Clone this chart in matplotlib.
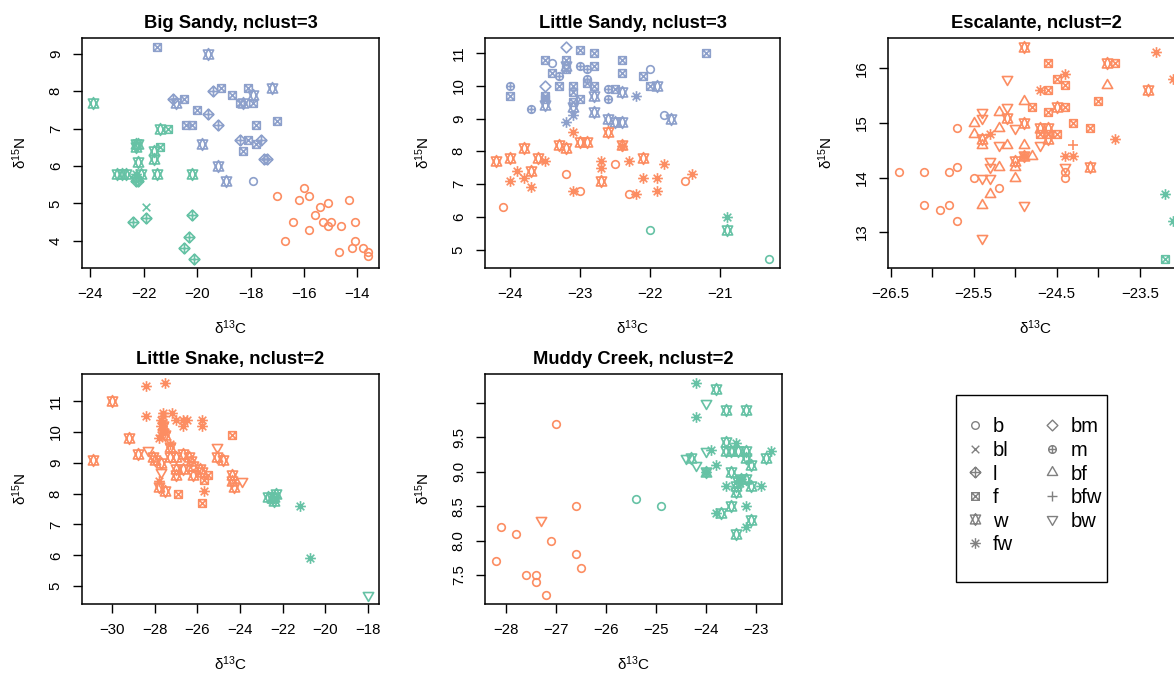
import matplotlib
matplotlib.use("Agg")
import matplotlib.pyplot as plt
from matplotlib.path import Path
from matplotlib.patches import Rectangle
import numpy as np

plt.rcParams['font.family'] = ['Liberation Sans', 'DejaVu Sans']
plt.rcParams['mathtext.fontset'] = 'custom'
plt.rcParams['mathtext.rm'] = 'Liberation Sans'
plt.rcParams['mathtext.it'] = 'Liberation Sans:italic'
plt.rcParams['mathtext.bf'] = 'Liberation Sans:bold'
plt.rcParams['mathtext.default'] = 'regular'

# ---------------- data ----------------
GREEN, ORANGE, BLUE = "#66C2A5", "#FC8D62", "#8DA0CB"

# Big Sandy
bigsandy_g_x = [-23.9, -21.4, -21.1, -22.3, -22.2, -22.3, -21.4, -21.6, -21.6, -22.2,
                -23.0, -22.8, -22.65, -22.3, -22.1, -21.5, -20.2, -22.3, -22.2, -22.3,
                -21.9, -22.4, -21.9, -20.2, -20.3, -20.5, -20.1]
bigsandy_g_y = [7.7, 7.0, 7.0, 6.6, 6.6, 6.5, 6.5, 6.4, 6.2, 6.1,
                5.8, 5.8, 5.8, 5.8, 5.8, 5.8, 5.8, 5.7, 5.6, 5.6,
                4.9, 4.5, 4.6, 4.7, 4.1, 3.8, 3.5]
bigsandy_g_diet = "w w f w w w f w w w  w w w fw w w w l l l  bl l l l l l l".split()

bigsandy_b_x = [-21.5, -19.6, -19.4, -19.1, -18.7, -18.1, -17.9, -17.2, -20.9, -20.8,
                -20.5, -18.4, -18.3, -17.9, -20.0, -19.6, -20.4, -20.2, -19.2, -17.8,
                -17.0, -19.8, -18.4, -18.1, -17.8, -17.6, -18.3, -17.5, -17.4, -19.2,
                -18.9, -17.9]
bigsandy_b_y = [9.2, 9.0, 8.0, 8.1, 7.9, 8.1, 7.9, 8.1, 7.8, 7.7,
                7.8, 7.7, 7.7, 7.7, 7.5, 7.4, 7.1, 7.1, 7.1, 7.1,
                7.2, 6.6, 6.7, 6.7, 6.6, 6.7, 6.4, 6.2, 6.2, 6.0,
                5.6, 5.6]
bigsandy_b_diet = "f w l f f f w w l w  f f w f f l f f l f  f w l f f l f l l w  w b".split()

bigsandy_o_x = [-17.0, -16.0, -16.2, -15.8, -16.4, -15.8, -16.7, -15.6, -15.4, -15.1,
                -15.3, -15.0, -15.1, -14.6, -14.3, -14.1, -14.1, -14.7, -14.2, -13.8,
                -13.6, -13.6]
bigsandy_o_y = [5.2, 5.4, 5.1, 5.2, 4.5, 4.3, 4.0, 4.7, 4.9, 5.0,
                4.5, 4.5, 4.4, 4.4, 5.1, 4.5, 4.0, 3.7, 3.8, 3.8,
                3.7, 3.6]
bigsandy_o_diet = "b b b b b b b b b b  b b b b b b b b b b  b b".split()

# Little Sandy
littlesandy_b_x = [-23.2, -23.0, -22.8, -23.5, -23.4, -23.2, -23.2, -23.2, -23.0, -22.9,
                   -22.8, -22.4, -22.4, -21.2, -22.0, -22.1, -24.0, -24.0, -23.4, -23.3,
                   -23.3, -23.5, -23.5, -23.5, -23.5, -23.7, -23.1, -23.1, -23.1, -23.1,
                   -23.1, -23.2, -22.9, -22.9, -22.8, -23.0, -22.8, -22.8, -22.6, -22.5,
                   -22.6, -22.4, -22.2, -22.0, -21.9, -22.6, -22.5, -22.4, -21.8, -21.7]
littlesandy_b_y = [11.2, 11.1, 11.0, 10.8, 10.7, 10.8, 10.5, 10.6, 10.6, 10.5,
                   10.6, 10.8, 10.4, 11.0, 10.5, 10.3, 10.0, 9.7, 10.4, 10.3,
                   10.0, 10.0, 9.7, 9.6, 9.4, 9.3, 10.0, 9.8, 9.5, 9.35,
                   9.1, 8.9, 10.2, 10.1, 10.0, 9.6, 9.7, 9.2, 9.9, 9.9,
                   9.6, 9.8, 9.7, 10.0, 10.0, 9.0, 8.9, 8.9, 9.1, 9.0]
littlesandy_b_diet = ("bm f f f b f f w m m  f f f f b f m f f m  f bm f f w m f f f w  "
                      "fw fw m f f f w w m f  m w fw f w w w w b w").split()

littlesandy_o_x = [-23.1, -22.6, -23.3, -23.2, -23.0, -22.9, -23.8, -22.4, -22.4, -24.2,
                   -24.0, -23.6, -23.5, -23.9, -23.7, -23.8, -24.0, -23.7, -23.2, -23.1,
                   -23.0, -22.7, -22.7, -22.7, -22.5, -22.3, -22.1, -21.8, -22.1, -21.9,
                   -22.3, -22.2, -21.9, -21.5, -21.4, -24.1]
littlesandy_o_y = [8.6, 8.6, 8.2, 8.1, 8.3, 8.3, 8.1, 8.2, 8.15, 7.7,
                   7.8, 7.8, 7.7, 7.4, 7.4, 7.2, 7.1, 6.9, 7.3, 6.8,
                   6.8, 7.7, 7.5, 7.1, 7.6, 7.7, 7.8, 7.6, 7.2, 7.2,
                   6.7, 6.7, 6.8, 7.1, 7.3, 6.3]
littlesandy_o_diet = ("fw w w w w w w w fw w  w w fw fw w fw fw fw b fw  "
                      "b fw fw w b fw w fw fw fw  b fw fw b fw b").split()

littlesandy_g_x = [-22.0, -20.9, -20.9, -20.3]
littlesandy_g_y = [5.6, 6.0, 5.6, 4.7]
littlesandy_g_diet = "b fw w b".split()

# Escalante
escalante_o_x = [-26.4, -26.1, -26.1, -25.9, -25.8, -25.8, -25.7, -25.7, -25.7, -25.5,
                 -25.5, -25.5, -25.4, -25.4, -25.4, -25.4, -25.4, -25.4, -25.3, -25.4,
                 -25.3, -25.3, -25.3, -25.3, -25.2, -25.2, -25.2, -25.2, -25.2, -25.1,
                 -25.1, -25.1, -25.1, -25.0, -25.0, -25.0, -25.0, -24.9, -24.9, -24.9,
                 -24.9, -24.9, -24.9, -24.8, -24.9, -24.8, -24.7, -24.6, -24.6, -24.7,
                 -24.7, -24.7, -24.6, -24.6, -24.6, -24.6, -24.5, -24.5, -24.5, -24.4,
                 -24.4, -24.4, -24.4, -24.3, -24.4, -24.4, -24.4, -24.3, -24.3, -24.1,
                 -24.1, -24.0, -23.9, -23.9, -23.8, -23.8, -23.4, -23.3, -23.1]
escalante_o_y = [14.1, 14.1, 13.5, 13.4, 13.5, 14.1, 14.9, 14.2, 13.2, 14.0,
                 15.0, 14.8, 12.9, 13.5, 15.2, 15.1, 14.7, 14.6, 14.8, 14.0,
                 14.0, 14.3, 14.2, 13.7, 13.8, 14.2, 15.2, 14.9, 14.6, 14.6,
                 15.1, 15.3, 15.8, 14.9, 14.3, 14.2, 14.0, 15.4, 15.0, 16.4,
                 14.6, 14.4, 14.4, 14.4, 13.5, 15.3, 15.6, 15.6, 16.1, 14.9,
                 14.8, 14.6, 14.9, 14.8, 14.7, 15.2, 14.8, 15.8, 15.3, 15.9,
                 15.7, 15.3, 14.4, 14.4, 14.2, 14.1, 14.0, 14.6, 15.0, 14.9,
                 14.2, 15.4, 15.7, 16.1, 16.1, 14.7, 15.6, 16.3, 15.8]
escalante_o_diet = ("b b b b b b b b b b  bf bf bw bf bw bw w bf fw bw  "
                    "bw bw bw bf b bf bf bf bw bf  w bw bw bw w bf bf bf w w  "
                    "bf w fw bf bw f fw f f w  f bw w f w f f f w fw  "
                    "f f fw fw bw b b bfw f f  w f bf w f fw w fw fw").split()

escalante_g_x = [-23.2, -23.1, -23.2]
escalante_g_y = [13.7, 13.2, 12.5]
escalante_g_diet = "fw fw f".split()

# Little Snake
littlesnake_o_x = [-28.4, -27.5, -30.0, -28.4, -27.6, -27.2, -27.7, -27.6, -27.7, -27.6,
                   -27.5, -27.7, -27.8, -27.5, -27.6, -27.6, -27.0, -26.7, -26.5, -26.7,
                   -25.8, -25.8, -24.4, -29.2, -28.8, -28.3, -28.1, -28.0, -27.3, -27.3,
                   -27.7, -27.7, -27.8, -27.8, -27.5, -27.3, -27.0, -26.7, -26.4, -26.3,
                   -27.0, -27.0, -26.7, -26.2, -26.2, -25.9, -25.8, -25.7, -25.5, -25.7,
                   -26.9, -25.8, -25.1, -25.1, -24.8, -24.4, -24.4, -24.3, -23.9, -30.9]
littlesnake_o_y = [11.5, 11.6, 11.0, 10.5, 10.6, 10.6, 10.4, 10.3, 10.2, 10.1,
                   10.0, 9.9, 9.8, 9.9, 10.2, 10.5, 10.4, 10.4, 10.4, 10.2,
                   10.4, 10.2, 9.9, 9.8, 9.3, 9.4, 9.2, 9.1, 9.6, 9.5,
                   9.0, 8.7, 8.4, 8.2, 8.1, 9.2, 9.2, 9.3, 9.2, 9.05,
                   8.8, 8.6, 8.8, 8.9, 8.6, 8.8, 8.7, 8.45, 8.6, 8.1,
                   8.0, 7.7, 9.5, 9.2, 9.1, 8.6, 8.4, 8.2, 8.4, 9.1]
littlesnake_o_diet = ("fw fw w fw fw fw fw fw fw fw  fw fw fw w w fw fw fw fw fw  "
                      "fw fw f w w bw w w fw w  w bw fw w w w w w w w  "
                      "w w w w w w w f f fw  f f bw w w w w w bw w").split()

littlesnake_g_x = [-22.7, -22.4, -22.3, -22.4, -22.5, -21.2, -20.7, -18.0]
littlesnake_g_y = [7.9, 7.9, 8.0, 7.75, 7.85, 7.6, 5.9, 4.7]
littlesnake_g_diet = "w w w w w fw fw bw".split()

# Muddy Creek
muddy_o_x = [-28.2, -28.1, -27.8, -27.6, -27.4, -27.4, -27.3, -27.2, -27.1, -27.0,
             -26.6, -26.6, -26.5]
muddy_o_y = [7.7, 8.2, 8.1, 7.5, 7.5, 7.4, 8.3, 7.2, 8.0, 9.7,
             8.5, 7.8, 7.6]
muddy_o_diet = "b b b b b b bw b b b  b b b".split()

muddy_g_x = [-25.4, -24.9, -24.2, -23.8, -24.0, -23.6, -23.2, -24.2, -23.6, -23.4,
             -23.6, -23.5, -23.35, -23.2, -23.2, -23.1, -24.0, -23.9, -24.4, -24.3,
             -24.2, -23.8, -24.0, -24.0, -23.5, -22.8, -22.7, -23.3, -23.3, -23.2,
             -23.35, -23.4, -23.4, -23.6, -23.1, -22.9, -23.5, -23.2, -23.8, -23.7,
             -23.1, -23.2, -23.4]
muddy_g_y = [8.6, 8.5, 10.3, 10.2, 10.0, 9.9, 9.9, 9.8, 9.43, 9.42,
             9.3, 9.3, 9.3, 9.3, 9.2, 9.1, 9.3, 9.32, 9.2, 9.2,
             9.1, 9.1, 9.0, 9.0, 9.0, 9.2, 9.3, 8.9, 8.9, 8.9,
             8.85, 8.8, 8.7, 8.8, 8.8, 8.8, 8.5, 8.5, 8.4, 8.4,
             8.3, 8.2, 8.1]
muddy_g_diet = ("b b fw w bw w w fw w fw  w w w w w w bw fw bw w  "
                "bw fw fw w w w fw w fw w  w w w fw w fw w fw fw w  w fw w").split()

legend_col1 = ["b", "bl", "l", "f", "w", "fw"]
legend_col2 = ["bm", "m", "bf", "bfw", "bw"]

# ---------------- marker shapes (R pch geometry) ----------------
def poly(points, closed=True):
    verts = list(points)
    codes = [Path.MOVETO] + [Path.LINETO] * (len(verts) - 1)
    if closed:
        verts.append(points[0])
        codes.append(Path.CLOSEPOLY)
    return Path(verts, codes)

def compound(*paths):
    return Path.make_compound_path(*paths)

def circle(r):
    c = Path.unit_circle()
    return Path(c.vertices * r, c.codes)

def plus(h):
    return compound(poly([(-h, 0), (h, 0)], False), poly([(0, -h), (0, h)], False))

def cross(h):
    return compound(poly([(-h, -h), (h, h)], False), poly([(-h, h), (h, -h)], False))

R = 0.375
D = np.sqrt(2) * R
TR, TX, TY = 1.5551 * R, 1.3468 * R, 0.7776 * R
Y11 = 0.5 * (TY + TR)
diamond = [(0, D), (D, 0), (0, -D), (-D, 0)]

shapes = {
    'b': circle(R),
    'bl': cross(R),
    'l': compound(poly(diamond), plus(D)),
    'f': compound(poly([(-R, -R), (R, -R), (R, R), (-R, R)]), cross(R)),
    'w': compound(poly([(0, -TR), (TX, Y11), (-TX, Y11)]), poly([(0, TR), (TX, -Y11), (-TX, -Y11)])),
    'fw': compound(plus(D), cross(R)),
    'bm': poly(diamond),
    'm': compound(circle(R), plus(R)),
    'bf': poly([(0, TR), (TX, -TY), (-TX, -TY)]),
    'bfw': plus(D),
    'bw': poly([(0, -TR), (TX, TY), (-TX, TY)]),
}
S_PT = 7.3
MEW = 1.2

def msize(key):
    return 2 * np.abs(shapes[key].vertices).max() * S_PT

# ---------------- figure ----------------
W, H = 1174, 674
fig = plt.figure(figsize=(W / 100, H / 100), dpi=100)

def minus(s):
    return s.replace('-', '\u2212')

panels = [
    dict(title="Big Sandy, nclust=3", box=(82, 38, 297, 230),
         groups=[(bigsandy_g_x, bigsandy_g_y, bigsandy_g_diet, GREEN),
                 (bigsandy_b_x, bigsandy_b_y, bigsandy_b_diet, BLUE),
                 (bigsandy_o_x, bigsandy_o_y, bigsandy_o_diet, ORANGE)],
         xt=[-24, -22, -20, -18, -16, -14], xl=None,
         yt=[4, 5, 6, 7, 8, 9], yl=None),
    dict(title="Little Sandy, nclust=3", box=(485, 38, 295, 230),
         groups=[(littlesandy_b_x, littlesandy_b_y, littlesandy_b_diet, BLUE),
                 (littlesandy_o_x, littlesandy_o_y, littlesandy_o_diet, ORANGE),
                 (littlesandy_g_x, littlesandy_g_y, littlesandy_g_diet, GREEN)],
         xt=[-24, -23, -22, -21], xl=None,
         yt=[5, 6, 7, 8, 9, 10, 11], yl=None),
    dict(title="Escalante, nclust=2", box=(888, 38, 296, 230),
         groups=[(escalante_o_x, escalante_o_y, escalante_o_diet, ORANGE),
                 (escalante_g_x, escalante_g_y, escalante_g_diet, GREEN)],
         xt=[-26.5, -26, -25.5, -25, -24.5, -24, -23.5, -23],
         xl=["-26.5", "", "-25.5", "", "-24.5", "", "-23.5", ""],
         yt=[13, 14, 15, 16], yl=None),
    dict(title="Little Snake, nclust=2", box=(82, 374, 297, 230),
         groups=[(littlesnake_o_x, littlesnake_o_y, littlesnake_o_diet, ORANGE),
                 (littlesnake_g_x, littlesnake_g_y, littlesnake_g_diet, GREEN)],
         xt=[-30, -28, -26, -24, -22, -20, -18], xl=None,
         yt=[5, 6, 7, 8, 9, 10, 11], yl=None),
    dict(title="Muddy Creek, nclust=2", box=(485, 374, 297, 230),
         groups=[(muddy_o_x, muddy_o_y, muddy_o_diet, ORANGE),
                 (muddy_g_x, muddy_g_y, muddy_g_diet, GREEN)],
         xt=[-28, -27, -26, -25, -24, -23], xl=None,
         yt=[7.5, 8.0, 8.5, 9.0, 9.5, 10.0],
         yl=["7.5", "8.0", "8.5", "9.0", "9.5", ""]),
]

for p in panels:
    left, top, w, h = p['box']
    ax = fig.add_axes([left / W, 1 - (top + h) / H, w / W, h / H])
    allx, ally = [], []
    for xs, ys, ds, col in p['groups']:
        n = min(len(xs), len(ys), len(ds))
        xs, ys, ds = np.array(xs[:n]), np.array(ys[:n]), np.array(ds[:n])
        allx += list(xs); ally += list(ys)
        for key in shapes:
            m = ds == key
            if m.any():
                ax.plot(xs[m], ys[m], ls='none', marker=shapes[key], ms=msize(key),
                        mfc='none', mec=col, mew=MEW)
    x0, x1 = min(allx), max(allx)
    y0, y1 = min(ally), max(ally)
    ax.set_xlim(x0 - 0.04 * (x1 - x0), x1 + 0.04 * (x1 - x0))
    ax.set_ylim(y0 - 0.04 * (y1 - y0), y1 + 0.04 * (y1 - y0))
    ax.set_xticks(p['xt'])
    ax.set_xticklabels([minus(s) for s in (p['xl'] if p['xl'] else [f"{v:g}" for v in p['xt']])])
    ax.set_yticks(p['yt'])
    ax.set_yticklabels(p['yl'] if p['yl'] else [f"{v:g}" for v in p['yt']],
                       rotation=90, va='center')
    ax.tick_params(direction='out', length=6.3, width=1.0, labelsize=10.8, pad=7.5, color='black')
    for sp in ax.spines.values():
        sp.set_linewidth(1.1)
    ax.set_title(p['title'], fontsize=13.2, fontweight='bold', pad=7)
    ax.set_xlabel(r'$\delta^{13}$C', fontsize=11, va='center')
    ax.xaxis.set_label_coords(0.5, -60 / h)
    ax.set_ylabel(r'$\delta^{15}$N', fontsize=11, va='center', ha='center')
    ax.yaxis.set_label_coords(-62 / w, 0.5)

# ---------------- legend ----------------
lax = fig.add_axes([956 / W, 1 - 582 / H, 151 / W, 187 / H])
lax.set_xlim(956, 1107)
lax.set_ylim(582, 395)
lax.axis('off')
lax.add_patch(Rectangle((0, 0), 1, 1, transform=lax.transAxes, fill=False,
                        lw=1.0, ec='black', clip_on=False))
LEG_GRAY = "#808080"
row_y0, row_dy = 425, 23.6
for col_keys, mx, tx in [(legend_col1, 975, 993), (legend_col2, 1052, 1071)]:
    for i, key in enumerate(col_keys):
        yy = row_y0 + i * row_dy
        lax.plot([mx], [yy], ls='none', marker=shapes[key], ms=msize(key),
                 mfc='none', mec=LEG_GRAY, mew=1.0, clip_on=False)
        lax.text(tx, yy, key, fontsize=14.5, va='center_baseline', ha='left', color='black')

fig.savefig("out.png", dpi=100)
